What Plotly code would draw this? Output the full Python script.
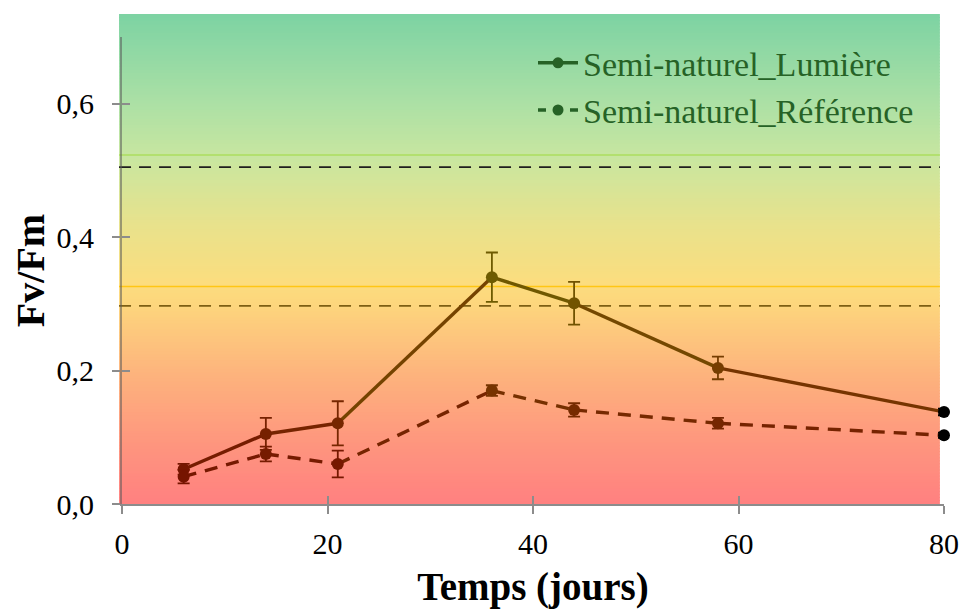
import plotly.graph_objects as go

# ---- data ----
days = [6, 14, 21, 36, 44, 58, 80]
lumiere = [0.052, 0.105, 0.121, 0.340, 0.301, 0.204, 0.138]
lumiere_err = [0.008, 0.024, 0.033, 0.037, 0.032, 0.017, 0.005]
reference = [0.041, 0.075, 0.060, 0.170, 0.141, 0.121, 0.103]
reference_err = [0.010, 0.011, 0.020, 0.008, 0.010, 0.008, 0.004]
series_names = ["Semi-naturel_Lumière", "Semi-naturel_Référence"]
dashed_levels = [0.505, 0.297]
thin_levels = [0.523, 0.326]
x_ticks = [0, 20, 40, 60, 80]
y_ticks = [0.0, 0.2, 0.4, 0.6]

FONT = "Liberation Serif"

# background gradient stops (data y, rgb)
BG_STOPS = [(0.0, (255, 128, 128)), (0.1, (254, 152, 126)), (0.2, (253, 181, 125)),
            (0.3, (253, 214, 125)), (0.33, (252, 221, 126)), (0.42, (232, 226, 140)),
            (0.52, (200, 230, 160)), (0.6, (172, 224, 165)), (0.733, (125, 211, 163))]
# darker "ink" gradient used for the series
INK_STOPS = [(0.0, (118, 12, 0)), (0.1, (118, 32, 0)), (0.2, (118, 60, 0)),
             (0.33, (112, 90, 0)), (0.5, (85, 100, 20)), (0.73, (38, 98, 38))]


def interp(stops, v):
    if v <= stops[0][0]:
        c = stops[0][1]
    elif v >= stops[-1][0]:
        c = stops[-1][1]
    else:
        for (a, ca), (b, cb) in zip(stops, stops[1:]):
            if a <= v <= b:
                t = (v - a) / (b - a)
                c = tuple(ca[k] + (cb[k] - ca[k]) * t for k in range(3))
                break
    return "rgb(%d,%d,%d)" % tuple(int(round(x)) for x in c)


YMAX = 0.7
BG_TOP = 0.733
BG_LEFT = -0.0036
BG_RIGHT = 0.995
XMAX = 80

fig = go.Figure()
shapes = []
n = 160
for i in range(n):
    y0 = BG_TOP * i / n
    y1 = BG_TOP * (i + 1) / n
    shapes.append(dict(type="rect", xref="paper", yref="paper", x0=BG_LEFT, x1=BG_RIGHT,
                       y0=y0 / YMAX, y1=y1 / YMAX + 0.002, line=dict(width=0),
                       fillcolor=interp(BG_STOPS, (y0 + y1) / 2), layer="below"))
shapes.append(dict(type="line", xref="paper", yref="y", x0=BG_LEFT, x1=BG_RIGHT,
                   y0=thin_levels[0], y1=thin_levels[0], line=dict(color="rgb(172,222,95)", width=1.5), layer="below"))
shapes.append(dict(type="line", xref="paper", yref="y", x0=BG_LEFT, x1=BG_RIGHT,
                   y0=thin_levels[1], y1=thin_levels[1], line=dict(color="rgb(255,198,20)", width=1.3), layer="below"))
shapes.append(dict(type="line", xref="paper", yref="y", x0=BG_LEFT, x1=BG_RIGHT,
                   y0=dashed_levels[0], y1=dashed_levels[0], line=dict(color="rgb(30,30,30)", width=1.6, dash="12px,8px"), layer="below"))
shapes.append(dict(type="line", xref="paper", yref="y", x0=BG_LEFT, x1=BG_RIGHT,
                   y0=dashed_levels[1], y1=dashed_levels[1], line=dict(color="rgb(125,95,20)", width=1.6, dash="12px,8px"), layer="below"))

x_edge = BG_RIGHT * XMAX

for vals, errs, dash in [(lumiere, lumiere_err, "solid"), (reference, reference_err, "13px,9px")]:
    for i in range(len(days) - 1):
        fig.add_trace(go.Scatter(x=days[i:i + 2], y=vals[i:i + 2], mode="lines",
                                 line=dict(color=interp(INK_STOPS, (vals[i] + vals[i + 1]) / 2), width=3.4, dash=dash),
                                 showlegend=False, hoverinfo="skip", cliponaxis=False))
    for d, v, e in zip(days, vals, errs):
        col = "black" if d > x_edge else interp(INK_STOPS, v)
        fig.add_trace(go.Scatter(x=[d], y=[v], mode="markers",
                                 marker=dict(color=col, size=12),
                                 error_y=dict(type="data", array=[e], color=col, thickness=1.8, width=6),
                                 showlegend=False, cliponaxis=False))

legend_col = "rgb(38,98,38)"
for name, dash in zip(series_names, ["solid", "8px,8px"]):
    fig.add_trace(go.Scatter(x=[None], y=[None], mode="lines+markers", name=name,
                             line=dict(color=legend_col, width=3.6, dash=dash),
                             marker=dict(color=legend_col, size=11)))

# invisible trace on overlay axes that carry the inner half of the crossing tick marks
fig.add_trace(go.Scatter(x=[None], y=[None], xaxis="x2", yaxis="y2", showlegend=False, hoverinfo="skip"))

tick_grey = "rgb(140,140,140)"
fig.update_layout(
    width=963, height=605,
    margin=dict(l=110, r=19, t=29, b=105),
    paper_bgcolor="white", plot_bgcolor="rgba(0,0,0,0)",
    separators=", ",
    font=dict(family=FONT, size=28, color="black"),
    shapes=shapes,
    showlegend=True,
    legend=dict(x=0.5, y=1.006, xanchor="left", yanchor="top",
                bgcolor="rgba(0,0,0,0)", font=dict(family=FONT, size=34, color=legend_col),
                tracegroupgap=0, itemwidth=40),
    xaxis=dict(range=[0, XMAX], tickvals=x_ticks, showgrid=False, zeroline=False,
               showline=True, linecolor=tick_grey, linewidth=2,
               ticks="outside", ticklen=8, tickcolor=tick_grey, tickwidth=2,
               ticklabelstandoff=4,
               tickfont=dict(family=FONT, size=30),
               title=dict(text="<b>Temps (jours)</b>", font=dict(family=FONT, size=39), standoff=14)),
    yaxis=dict(range=[0, YMAX], tickvals=y_ticks, tickformat=".1f", showgrid=False, zeroline=False,
               showline=True, linecolor="rgba(90,90,90,0.55)", linewidth=2,
               ticks="outside", ticklen=8, tickcolor=tick_grey, tickwidth=2,
               ticklabelstandoff=12,
               tickfont=dict(family=FONT, size=30),
               title=dict(text="<b>Fv/Fm</b>", font=dict(family=FONT, size=40), standoff=8)),
    xaxis2=dict(range=[0, XMAX], tickvals=x_ticks, overlaying="x", anchor="y2", side="bottom",
                showgrid=False, zeroline=False, showline=False, showticklabels=False,
                ticks="inside", ticklen=8, tickcolor=tick_grey, tickwidth=2),
    yaxis2=dict(range=[0, YMAX], tickvals=y_ticks, overlaying="y", anchor="x2", side="left",
                showgrid=False, zeroline=False, showline=False, showticklabels=False,
                ticks="inside", ticklen=8, tickcolor=tick_grey, tickwidth=2),
)

fig.write_html("out.html")
